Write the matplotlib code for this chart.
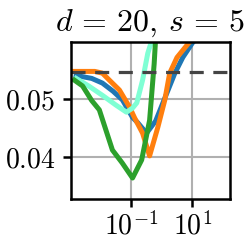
import numpy as np
import matplotlib
matplotlib.use('Agg')
import matplotlib.pyplot as plt

plt.rcParams['mathtext.fontset'] = 'cm'
plt.rcParams['font.family'] = 'serif'
plt.rcParams['font.serif'] = ['DejaVu Serif']

# curves (x as log10 values)
blue_x = [-2.81, -2.3, -1.95, -1.6, -1.29, -0.96, -0.79, -0.50, -0.2, 0.03, 0.43, 0.69, 1.02, 1.5, 2.0]
blue_y = [0.0540, 0.0535, 0.0527, 0.0513, 0.0498, 0.0468, 0.0459, 0.0441, 0.0462, 0.0492, 0.0544, 0.0571, 0.0597, 0.0620, 0.0640]

orange_x = [-2.87, -2.2, -1.95, -1.72, -1.39, -1.06, -0.89, -0.63, -0.40, -0.13, 0.10, 0.26, 0.50, 0.92, 1.5, 2.0]
orange_y = [0.0547, 0.0547, 0.0544, 0.0532, 0.0515, 0.0486, 0.0467, 0.0441, 0.0402, 0.0451, 0.0498, 0.0544, 0.0571, 0.0598, 0.0620, 0.0640]

green_x = [-2.87, -2.6, -2.3, -2.05, -1.62, -1.3, -0.96, -0.66, -0.40, -0.25, -0.15]
green_y = [0.0532, 0.0522, 0.0497, 0.0481, 0.0412, 0.0390, 0.0364, 0.0395, 0.0463, 0.0560, 0.0650]

aqua_x = [-2.81, -2.4, -1.95, -1.5, -1.16, -0.96, -0.82, -0.63, -0.46, -0.33, -0.2]
aqua_y = [0.0535, 0.0522, 0.0506, 0.0489, 0.0477, 0.0484, 0.0493, 0.0532, 0.0578, 0.0600, 0.0650]

baseline = 0.0546

fig = plt.figure(figsize=(2.45, 2.42), dpi=100)
ax = fig.add_axes([70.7 / 245, 1 - 199 / 242, (230 - 70.7) / 245, (199 - 41.7) / 242])

lw = 3.6
ax.plot(10 ** np.array(blue_x), blue_y, color='tab:blue', lw=lw)
ax.plot(10 ** np.array(orange_x), orange_y, color='tab:orange', lw=lw)
ax.plot(10 ** np.array(aqua_x), aqua_y, color='aquamarine', lw=lw)
ax.plot(10 ** np.array(green_x), green_y, color='tab:green', lw=lw)
ax.axhline(baseline, color='#444444', lw=2.3, dashes=(4.4, 3.0))

ax.set_xscale('log')
ax.set_xlim(10 ** -2.99, 10 ** 2.24)
ax.set_ylim(0.0328, 0.0598)
ax.set_xticks([1e-1, 1e1])
ax.set_xticklabels([r'$10^{-1}$', r'$10^{1}$'])
ax.xaxis.set_minor_locator(matplotlib.ticker.NullLocator())
ax.set_yticks([0.04, 0.05])
ax.set_yticklabels([r'$0.04$', r'$0.05$'])
ax.grid(True, color='#b0b0b0', lw=1.5)
ax.set_axisbelow(True)
for s in ax.spines.values():
    s.set_linewidth(1.8)
ax.tick_params(labelsize=20, width=1.8, length=6)
ax.tick_params(axis='y', pad=5)
ax.tick_params(axis='x', pad=3)
ax.set_title(r'$d\,=\,20,\, s\,=\,5$', fontsize=23, pad=8)

fig.savefig('out.png', dpi=100)
